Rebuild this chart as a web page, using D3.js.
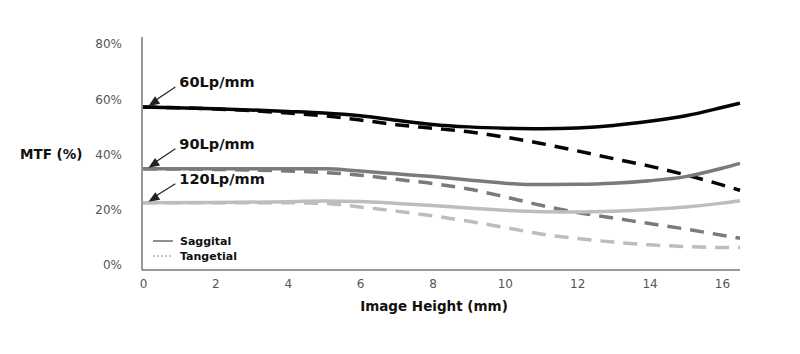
<!DOCTYPE html>
<html>
<head>
<meta charset="utf-8">
<script src="https://cdn.jsdelivr.net/npm/d3@7"></script>
<style>
  body { margin: 0; background: #fff; }
  svg text { font-family: "DejaVu Sans", sans-serif; }
</style>
</head>
<body>
<div id="chart"></div>
<script>
// image height (mm)
const heights = [0, 2, 4, 5, 6, 7, 8, 9, 10, 11, 12, 13, 14, 15, 16, 16.5];

// MTF values (%) per frequency, saggital and tangential
const sag60 = [57.2, 56.6, 55.6, 55, 54, 52.4, 50.9, 50, 49.5, 49.3, 49.6, 50.5, 52, 54, 57, 58.6];
const tan60 = [57.2, 56.5, 55, 54, 52.5, 50.8, 49.5, 48.2, 46.3, 44, 41.3, 38.5, 35.8, 32.6, 29, 27];
const sag90 = [34.8, 34.8, 34.8, 34.8, 34, 33, 32, 30.8, 29.6, 29.1, 29.2, 29.6, 30.5, 32, 35, 36.8];
const tan90 = [34.8, 34.6, 34, 33.5, 32.5, 31, 29.5, 27.5, 24.7, 21.6, 19, 17, 15, 13, 10.8, 9.7];
const sag120 = [22.5, 22.6, 22.9, 23.2, 23, 22.3, 21.5, 20.6, 19.8, 19.3, 19.2, 19.5, 20.1, 21, 22.4, 23.3];
const tan120 = [22.5, 22.5, 22.5, 22.3, 21, 19.5, 17.8, 15.8, 13.6, 11.2, 9.6, 8.3, 7.3, 6.7, 6.3, 6.3];

const freqLabels = ["60Lp/mm", "90Lp/mm", "120Lp/mm"];
const colors = ["#050505", "#7a7a7a", "#bdbdbd"];
const xTicks = [0, 2, 4, 6, 8, 10, 12, 14, 16];
const yTicks = [0, 20, 40, 60, 80];

const W = 800, H = 354;
const svg = d3.select("#chart").append("svg")
    .attr("width", W).attr("height", H);

const x = d3.scaleLinear().domain([0, 16.5]).range([143, 740]);
const y = d3.scaleLinear().domain([0, 80]).range([265, 44]);

//Axis lines
svg.append("line")
    .attr("x1", 142).attr("x2", 142)
    .attr("y1", 37).attr("y2", 270)
    .attr("stroke", "#333").attr("stroke-width", 1);
svg.append("line")
    .attr("x1", 142).attr("x2", 740)
    .attr("y1", 270).attr("y2", 270)
    .attr("stroke", "#333").attr("stroke-width", 1);

//Y tick labels
const yAxis = svg.append("g")
    .attr("transform", "translate(130,0)")
    .call(d3.axisLeft(y).tickValues(yTicks).tickSize(0).tickFormat(d => d + "%"));
yAxis.select(".domain").remove();
yAxis.selectAll(".tick text")
    .attr("x", -8)
    .attr("fill", "#555")
    .attr("font-size", "12px")
    .style("font-family", "DejaVu Sans, sans-serif");

//X tick labels
const xAxis = svg.append("g")
    .attr("transform", "translate(0,279)")
    .call(d3.axisBottom(x).tickValues(xTicks).tickSize(0));
xAxis.select(".domain").remove();
xAxis.selectAll(".tick text")
    .attr("y", 0)
    .attr("dy", "0.75em")
    .attr("fill", "#555")
    .attr("font-size", "12px")
    .style("font-family", "DejaVu Sans, sans-serif");

//Axis titles
svg.append("text")
    .attr("x", 20).attr("y", y(40))
    .attr("dy", "0.35em")
    .attr("font-size", "13.5px")
    .attr("font-weight", "bold")
    .attr("fill", "#111")
    .text("MTF (%)");
svg.append("text")
    .attr("x", 434).attr("y", 311)
    .attr("text-anchor", "middle")
    .attr("font-size", "13.5px")
    .attr("font-weight", "bold")
    .attr("fill", "#111")
    .text("Image Height (mm)");

//Curves
const line = d3.line()
    .x((d, i) => x(heights[i]))
    .y(d => y(d))
    .curve(d3.curveMonotoneX);

const series = [
    { vals: tan60, c: colors[0], dash: true },
    { vals: tan90, c: colors[1], dash: true },
    { vals: tan120, c: colors[2], dash: true },
    { vals: sag120, c: colors[2], dash: false },
    { vals: sag90, c: colors[1], dash: false },
    { vals: sag60, c: colors[0], dash: false },
];
series.forEach(s => {
    svg.append("path")
        .datum(s.vals)
        .attr("d", line)
        .attr("fill", "none")
        .attr("stroke", s.c)
        .attr("stroke-width", 3.5)
        .attr("stroke-dasharray", s.dash ? "14,9" : null);
});

//Frequency labels with arrows
const starts = [sag60[0], sag90[0], sag120[0]];
const labelOffset = [20, 20, 19];
starts.forEach((v, i) => {
    const tipX = x(0.15), tipY = y(v) - 1;
    const lx = x(0.95), ly = y(v) - labelOffset[i];
    svg.append("line")
        .attr("x1", lx - 2).attr("y1", ly)
        .attr("x2", tipX + 3).attr("y2", tipY - 3)
        .attr("stroke", "#222").attr("stroke-width", 1.2);
    // arrowhead pointing down-left
    const ang = Math.atan2(tipY - ly, tipX - lx);
    const len = 11, wid = 4.5;
    const bx = tipX - len * Math.cos(ang), by = tipY - len * Math.sin(ang);
    const px = -Math.sin(ang) * wid, py = Math.cos(ang) * wid;
    svg.append("path")
        .attr("d", `M${tipX},${tipY}L${bx + px},${by + py}L${bx - px},${by - py}Z`)
        .attr("fill", "#222");
    svg.append("text")
        .attr("x", lx + 2).attr("y", ly)
        .attr("font-size", "14.5px")
        .attr("font-weight", "bold")
        .attr("fill", "#111")
        .text(freqLabels[i]);
});

//Legend
const legend = [
    { name: "Saggital", dash: null, c: "#222" },
    { name: "Tangetial", dash: "2,2", c: "#888" },
];
legend.forEach((d, i) => {
    const ly = 241 + i * 15;
    svg.append("line")
        .attr("x1", 153).attr("x2", 173)
        .attr("y1", ly).attr("y2", ly)
        .attr("stroke", d.c).attr("stroke-width", 1)
        .attr("stroke-dasharray", d.dash);
    svg.append("text")
        .attr("x", 180).attr("y", ly)
        .attr("dy", "0.35em")
        .attr("font-size", "11px")
        .attr("font-weight", "bold")
        .attr("fill", "#111")
        .text(d.name);
});
</script>
</body>
</html>
